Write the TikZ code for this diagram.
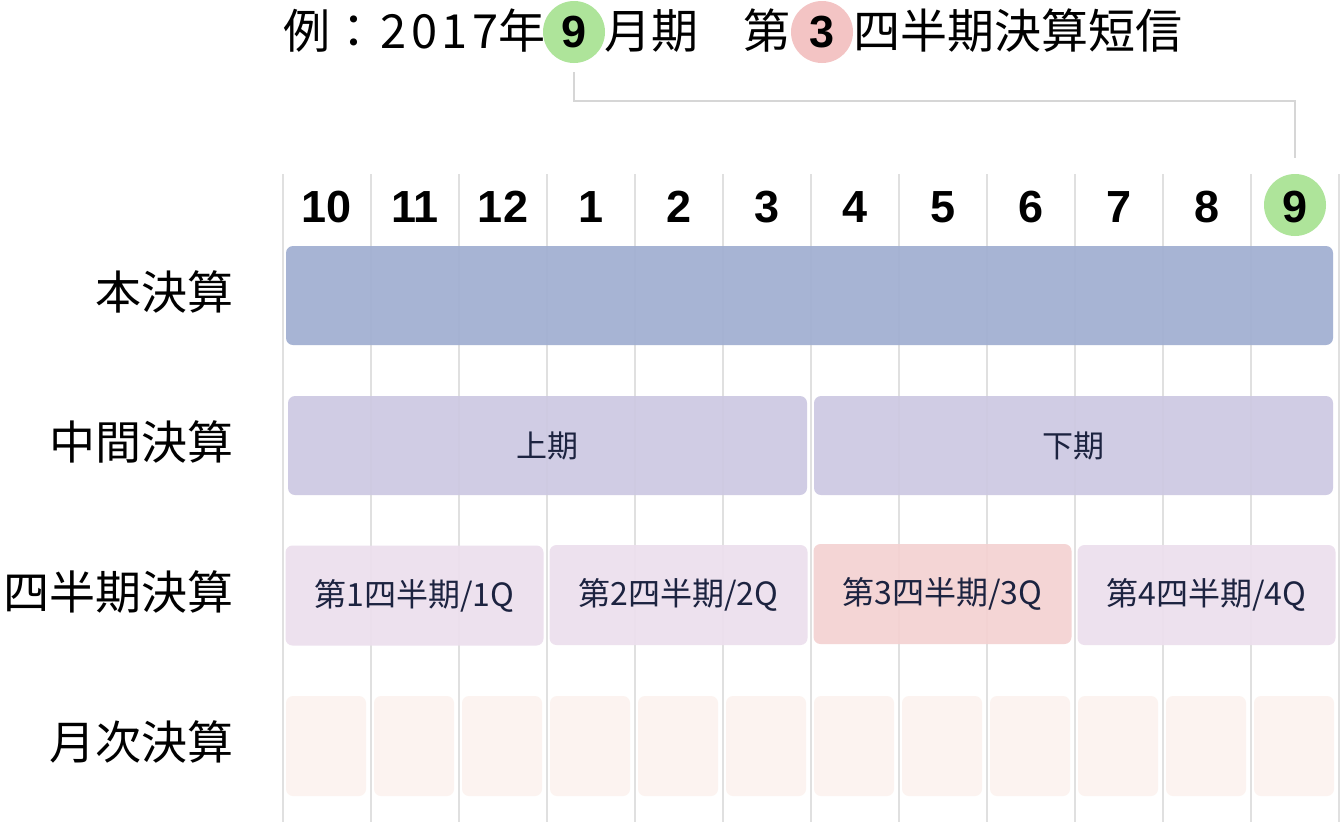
\documentclass[tikz,border=0pt]{standalone}
\usepackage{fontspec}
\setmainfont{Noto Sans CJK JP}
\newfontfamily\numfont{Liberation Sans}
\definecolor{gridgray}{HTML}{E0E0E0}
\definecolor{connGray}{HTML}{D6D6D6}
\definecolor{honBlue}{HTML}{A1AFD1}
\definecolor{chukanPurple}{HTML}{CDC9E2}
\definecolor{qPurple}{HTML}{ECDFED}
\definecolor{qPink}{HTML}{F4D2D2}
\definecolor{monthPeach}{HTML}{FCF3EF}
\definecolor{circGreen}{HTML}{AEE49A}
\definecolor{circPink}{HTML}{F3C4C4}
\definecolor{navyText}{HTML}{1C2340}
\begin{document}
\begin{tikzpicture}[x=1pt,y=-1pt,
  gridline/.style={draw=gridgray, line width=2pt},
  conn/.style={draw=connGray, line width=2pt},
  barbox/.style={rounded corners=7pt, fill opacity=0.93, text opacity=1, inner sep=0pt, text=navyText, font=\fontsize{31}{36}\selectfont},
  qtext/.style={font=\fontsize{32}{36}\selectfont},
  rowlabel/.style={anchor=east, inner sep=0pt, font=\fontsize{46}{52}\selectfont},
  titletext/.style={inner sep=0pt, font=\fontsize{47}{54}\selectfont},
  monthnum/.style={anchor=base, inner sep=0pt, font=\numfont\bfseries\fontsize{45}{50}\selectfont},
  circnum/.style={circle, inner sep=0pt, minimum size=62pt, font=\numfont\bfseries\fontsize{45}{50}\selectfont}
]
\useasboundingbox[fill=white] (0,0) rectangle (1340,822);

% grid lines
\foreach \k in {0,...,12} {
  \draw[gridline] (283+88*\k,174) -- (283+88*\k,822);
}

% title
\node[titletext, anchor=west] (t0) at (283,31) {例：};
\node[titletext, anchor=east] (t1) at (546,31) {{\addfontfeature{LetterSpace=10}2017}年};
\node[circnum, fill=circGreen] (c9) at (574,32) {9};
\node[titletext, anchor=west] (t2) at (604,31) {月期};
\node[titletext, anchor=east] (t3) at (791,31) {第};
\node[circnum, fill=circPink] (c3) at (822,32) {3};
\node[titletext, anchor=west] (t4) at (853,31) {四半期決算短信};

% month header
\node[circle, fill=circGreen, minimum size=62pt, inner sep=0pt] (g9) at (1295,205) {};
\foreach \m [count=\i from 0] in {10,11,12,1,2,3,4,5,6,7,8,9} {
  \node[monthnum] (m\i) at (327+88*\i,222) {\m};
}

% connector
\coordinate (bend) at (1295,101);
\draw[conn, shorten <=9pt, shorten >=16pt] (c9.south) |- (bend) -- (g9.north);

% row labels
\node[rowlabel] (l1) at (234,292) {本決算};
\node[rowlabel] (l2) at (234,442) {中間決算};
\node[rowlabel] (l3) at (234,592) {四半期決算};
\node[rowlabel] (l4) at (234,742) {月次決算};

% bars
\node[barbox, fill=honBlue, minimum width=1047pt, minimum height=99pt] (hon) at (809.5,295.5) {};
\node[barbox, fill=chukanPurple, minimum width=519pt, minimum height=99pt] (kami) at (547.5,445.5) {上期};
\node[barbox, fill=chukanPurple, minimum width=519pt, minimum height=99pt] (shimo) at (1073.5,445.5) {下期};
\node[barbox, qtext, fill=qPurple, minimum width=258pt, minimum height=100pt] (q1) at (414.5,595.5) {第1四半期/1Q};
\node[barbox, qtext, fill=qPurple, minimum width=258pt, minimum height=100pt] (q2) at (678.5,595) {第2四半期/2Q};
\node[barbox, qtext, fill=qPink, minimum width=258pt, minimum height=100pt] (q3) at (942.5,594) {第3四半期/3Q};
\node[barbox, qtext, fill=qPurple, minimum width=258pt, minimum height=100pt] (q4) at (1206.5,595) {第4四半期/4Q};
\foreach \k in {0,...,11} {
  \node[barbox, fill=monthPeach, minimum width=80pt, minimum height=100pt] (mo\k) at (326+88*\k,746) {};
}
\end{tikzpicture}
\end{document}
